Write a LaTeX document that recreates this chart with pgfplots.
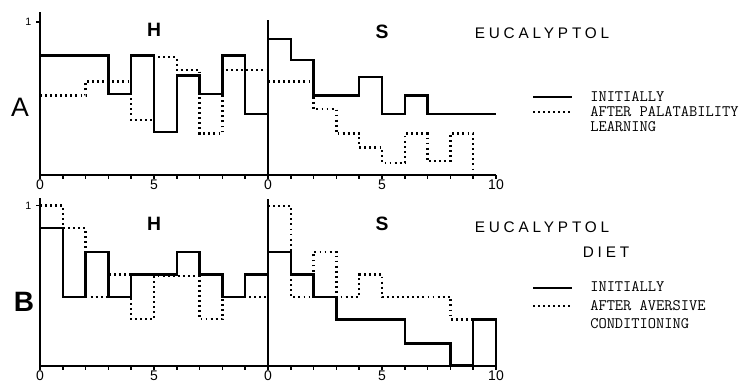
\documentclass[border=0pt]{standalone}
\usepackage{fontspec}
\setmainfont{Liberation Sans}
\newfontfamily\spaced[LetterSpace=25]{Liberation Sans}
\usepackage{pgfplots}
\pgfplotsset{compat=1.18}

\tikzset{
  dots/.style={dash pattern=on 1.4pt off 2.4pt},
  stair/.style={const plot, line width=1.8pt, black, mark=none},
}
\pgfplotsset{
  panel/.style={
    scale only axis, width=171pt,
    axis lines=left, axis line style={line width=1.7pt, -},
    xmin=0, xmax=10, ymin=0,
    xtick={0,...,10}, tick align=outside, major tick length=3pt,
    tick style={line width=1.1pt, black},
    x tick label style={font=\fontsize{10.5}{11}\selectfont, inner sep=0.5pt},
    clip=false,
  },
  hpanel/.style={panel, xticklabels={0,,,,,5,,,,,}, ytick={1}, yticklabels={1},
    y tick label style={font=\fontsize{8}{9}\selectfont}},
  spanel/.style={panel, xticklabels={0,,,,,5,,,,,10}, ytick=\empty},
}

\begin{document}
\begin{tikzpicture}[x=0.75pt, y=0.75pt]
\useasboundingbox (0,0) rectangle (748,384);
\coordinate (aH) at (40,209);
\coordinate (aS) at (268,209);
\coordinate (bH) at (40,18.3);
\coordinate (bS) at (268,18.3);

% ---- row A
\begin{axis}[hpanel, at={(aH)}, anchor=south west, height=122.25pt, ymax=1.065]
  \addplot[stair] coordinates {(0,.78) (3,.53) (4,.78) (5,.28) (6,.65) (7,.53) (8,.78) (9,.40) (10,.40)};
  \addplot[stair, dots] coordinates {(0,.52) (2,.61) (4,.36) (5,.77) (6,.685) (7,.27) (8,.685) (10,.685)};
\end{axis}
\begin{axis}[spanel, at={(aS)}, anchor=south west, height=116.25pt, ymax=1.013]
  \addplot[stair] coordinates {(0,.89) (1,.75) (2,.52) (4,.64) (5,.40) (6,.52) (7,.40) (10,.40)};
  \addplot[stair, dots] coordinates {(0,.61) (2,.43) (3,.27) (4,.18) (5,.08) (6,.27) (7,.09) (8,.27) (9,0)};
\end{axis}

% ---- row B
\begin{axis}[hpanel, at={(bH)}, anchor=south west, height=126pt, ymax=1.05]
  \addplot[stair] coordinates {(0,.86) (1,.43) (2,.71) (3,.43) (4,.57) (6,.71) (7,.57) (8,.43) (9,.57) (10,.57)};
  \addplot[stair, dots] coordinates {(0,1) (1,.86) (2,.43) (3,.57) (4,.29) (5,.56) (7,.29) (8,.43) (10,.43)};
\end{axis}
\begin{axis}[spanel, at={(bS)}, anchor=south west, height=125pt, ymax=1.042]
  \addplot[stair] coordinates {(0,.71) (1,.57) (2,.43) (3,.29) (6,.14) (8,0) (9,.29) (10,.29) (10,0)};
  \addplot[stair, dots] coordinates {(0,1) (1,.43) (2,.71) (3,.43) (4,.57) (5,.43) (8,.29) (10,.29) (10,0)};
\end{axis}

% ---- labels
\tikzset{every node/.style={inner sep=0pt}}
\node[font=\bfseries\fontsize{14.5}{16}\selectfont] at (154,354) {H};
\node[font=\bfseries\fontsize{14.5}{16}\selectfont] at (382,352) {S};
\node[font=\fontsize{20}{22}\selectfont] at (20,277) {A};
\node[font=\spaced\fontsize{11.5}{13}\selectfont] at (542,351) {EUCALYPTOL};
\draw[line width=1.6pt] (533,287) -- (572,287);
\draw[line width=1.6pt, dots] (533,272) -- (572,272);
\node[anchor=west, font=\ttfamily\fontsize{12}{14}\selectfont] at (590,287) {INITIALLY};
\node[anchor=west, font=\ttfamily\fontsize{12}{14}\selectfont] at (590,272) {AFTER PALATABILITY};
\node[anchor=west, font=\ttfamily\fontsize{12}{14}\selectfont] at (590,257) {LEARNING};

\node[font=\bfseries\fontsize{14.5}{16}\selectfont] at (154,160) {H};
\node[font=\bfseries\fontsize{14.5}{16}\selectfont] at (382,160) {S};
\node[font=\bfseries\fontsize{21}{23}\selectfont] at (24,82) {B};
\node[font=\spaced\fontsize{11.5}{13}\selectfont] at (542,157) {EUCALYPTOL};
\node[font=\spaced\fontsize{11.5}{13}\selectfont] at (606,132) {DIET};
\draw[line width=1.6pt] (533,96) -- (572,96);
\draw[line width=1.6pt, dots] (533,78) -- (572,78);
\node[anchor=west, font=\ttfamily\fontsize{12}{14}\selectfont] at (590,97) {INITIALLY};
\node[anchor=west, font=\ttfamily\fontsize{12}{14}\selectfont] at (590,78) {AFTER AVERSIVE};
\node[anchor=west, font=\ttfamily\fontsize{12}{14}\selectfont] at (590,60) {CONDITIONING};
\end{tikzpicture}
\end{document}
